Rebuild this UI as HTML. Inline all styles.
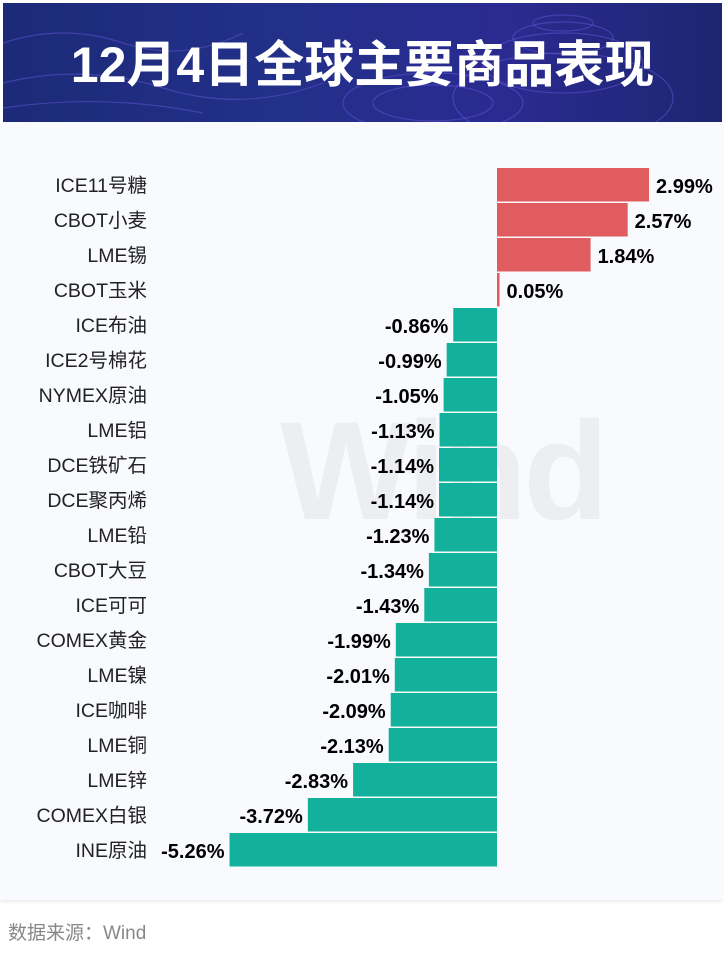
<!DOCTYPE html>
<html><head><meta charset="utf-8">
<style>
body{margin:0;width:725px;height:954px;background:#fff;position:relative;overflow:hidden;font-family:"Liberation Sans","Noto Sans CJK SC",sans-serif}
#header{position:absolute;left:3px;top:3px;width:719px;height:119px;background:linear-gradient(90deg,#1c2a78 0%,#23308a 40%,#2a2a90 70%,#1d2670 100%);overflow:hidden}
#title{position:absolute;left:0;width:100%;top:22px;text-align:center;color:#fff;font-size:50px;font-weight:bold;font-family:"Liberation Sans","Noto Sans CJK SC",sans-serif;transform:scaleX(1.0);}
#panel{position:absolute;left:0;top:122px;width:722px;height:778px;background:#f8fafd;box-shadow:0 2px 3px rgba(0,0,0,0.08)}
#foot{position:absolute;left:8px;top:918px;font-size:19px;color:#888}
</style></head><body>
<div id="header">
<svg width="719" height="119" style="position:absolute;left:0;top:0">
<g fill="none" stroke="#6a5ae0" stroke-opacity="0.45" stroke-width="1.2">
<ellipse cx="430" cy="100" rx="90" ry="30"/><ellipse cx="430" cy="100" rx="60" ry="18"/>
<ellipse cx="560" cy="20" rx="30" ry="8"/><ellipse cx="560" cy="35" rx="50" ry="16"/><ellipse cx="560" cy="60" rx="80" ry="30"/><ellipse cx="560" cy="95" rx="110" ry="45"/>
<path d="M0 40 Q60 20 120 40 T240 30"/><path d="M0 80 Q80 60 160 85 T320 80"/><path d="M0 105 Q100 90 200 110"/>
</g></svg>
<div id="title">12月4日全球主要商品表现</div>
</div>
<div id="panel">
<div style="position:absolute;left:280px;top:268px;font-size:140px;font-weight:bold;color:#eceef1;letter-spacing:-4px">Wind</div>
</div>
<svg id="chart" width="725" height="954" style="position:absolute;left:0;top:0"></svg>
<div id="foot">数据来源：Wind</div>
<script>
const categories=["ICE11号糖","CBOT小麦","LME锡","CBOT玉米","ICE布油","ICE2号棉花","NYMEX原油","LME铝","DCE铁矿石","DCE聚丙烯","LME铅","CBOT大豆","ICE可可","COMEX黄金","LME镍","ICE咖啡","LME铜","LME锌","COMEX白银","INE原油"];
const values=[2.99,2.57,1.84,0.05,-0.86,-0.99,-1.05,-1.13,-1.14,-1.14,-1.23,-1.34,-1.43,-1.99,-2.01,-2.09,-2.13,-2.83,-3.72,-5.26];
const ns="http://www.w3.org/2000/svg";
const svg=document.getElementById('chart');
const x0=497, scale=50.85, top0=168, pitch=35, bh=33.5;
const xs=v=>x0+v*scale;
const ys=i=>top0+i*pitch;
categories.forEach((c,i)=>{
  const v=values[i];
  const r=document.createElementNS(ns,'rect');
  const a=xs(Math.min(0,v)), b=xs(Math.max(0,v));
  r.setAttribute('x',a);r.setAttribute('y',ys(i));
  r.setAttribute('width',Math.max(1.5,b-a));r.setAttribute('height',bh);
  r.setAttribute('fill',v>=0?'#e05c5e':'#13b19b');
  
  
  svg.appendChild(r);
  const t=document.createElementNS(ns,'text');
  t.textContent=c;
  t.setAttribute('x',147);t.setAttribute('y',ys(i)+bh/2+7);
  t.setAttribute('text-anchor','end');t.setAttribute('font-size','19.5');t.setAttribute('fill','#222');
  t.setAttribute('font-family','"Liberation Sans","Noto Sans CJK SC",sans-serif');
  
  
  svg.appendChild(t);
  const l=document.createElementNS(ns,'text');
  l.textContent=v.toFixed(2)+'%';
  l.setAttribute('x',v>=0?Math.max(xs(v),x0+1.5)+7:xs(v)-5);
  l.setAttribute('y',ys(i)+bh/2+8);
  l.setAttribute('text-anchor',v>=0?'start':'end');
  l.setAttribute('font-size','20');l.setAttribute('font-weight','bold');l.setAttribute('fill','#000');
  l.setAttribute('font-family','"Liberation Sans",sans-serif');
  
  
  svg.appendChild(l);
});
</script>
</body></html>
